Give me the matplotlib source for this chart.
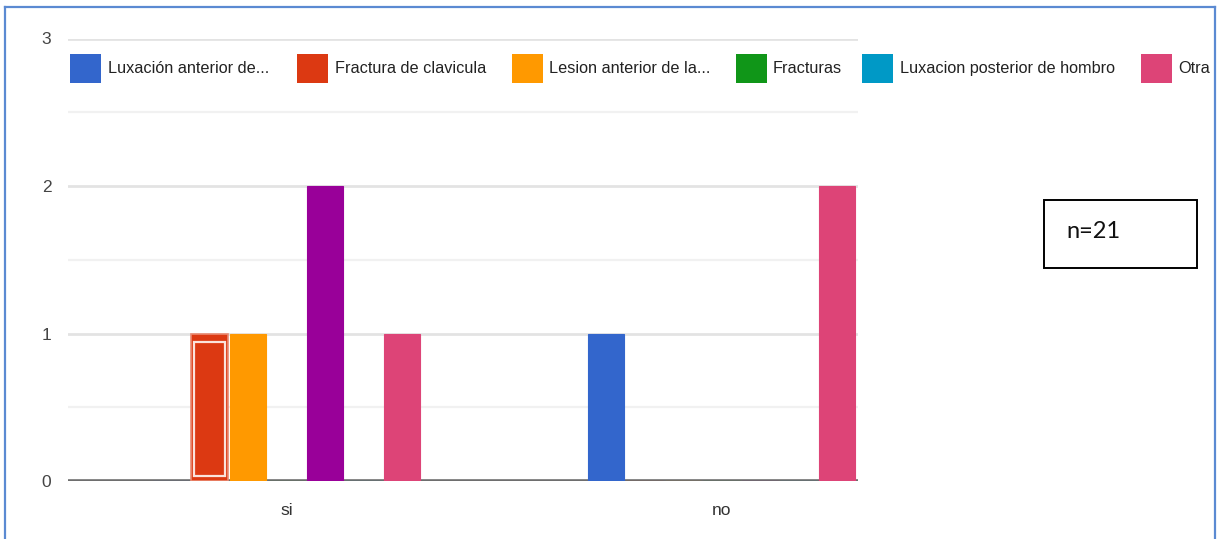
import matplotlib
matplotlib.use("Agg")
import matplotlib.pyplot as plt
from matplotlib.patches import Rectangle
from matplotlib.lines import Line2D
import numpy as np

# ---- data -------------------------------------------------------------
categories = ["si", "no"]
series_labels = [
    "Luxación anterior de...",
    "Fractura de clavicula",
    "Lesion anterior de la...",
    "Fracturas",
    None,  # purple series, no legend entry
    "Luxacion posterior de hombro",
    "Otra",
]
series_colors = ["#3366cc", "#dc3912", "#ff9900", "#109618",
                 "#990099", "#0099c6", "#dd4477"]
values_si = [0, 1, 1, 0, 2, 0, 1]
values_no = [1, 0, 0, 0, 0, 0, 2]
y_ticks = [0, 1, 2, 3]
legend_order = [0, 1, 2, 3, 5, 6]
sample_note = "n=21"

# ---- figure -----------------------------------------------------------
W, H = 1221, 539
fig = plt.figure(figsize=(W / 100, H / 100), dpi=100)
fig.patch.set_facecolor("white")

sans = ["Liberation Sans", "DejaVu Sans"]


def fx(px):
    return px / W


def fy(py):
    return 1 - py / H


ax_l, ax_r, ax_t, ax_b = 68, 858, 38.5, 481
ax = fig.add_axes([fx(ax_l), fy(ax_b), fx(ax_r) - fx(ax_l), fy(ax_t) - fy(ax_b)])

n_series = len(series_colors)
x = np.arange(len(categories))
pitch = 0.0885
bar_w = 0.085
values = np.array([values_si, values_no]).T  # (series, category)

bars_by_series = []
for i in range(n_series):
    offs = (i - (n_series - 1) / 2) * pitch
    bc = ax.bar(x + offs, values[i], width=bar_w, color=series_colors[i],
                edgecolor=series_colors[i], linewidth=0.8, zorder=3)
    bars_by_series.append(bc)

# highlighted outline inside the first "Fractura de clavicula" bar
hl = bars_by_series[1][0]
dx_px = 1 / 435.0
dy_px = 1 / 147.5
hl.set_edgecolor("#ea8a72")
hl.set_linewidth(1.2)
ax.add_patch(Rectangle((hl.get_x() + 2.5 * dx_px, hl.get_y() + 5 * dy_px),
                       hl.get_width() - 5 * dx_px, hl.get_height() - 13 * dy_px,
                       fill=False, edgecolor="#fbe3dc", linewidth=1.6,
                       zorder=4))

ax.set_xlim(-0.5023, 1.3138)
ax.set_ylim(0, 3)

# gridlines
for v in y_ticks[1:]:
    ax.axhline(v, color="#e3e3e3", linewidth=2, zorder=1)
for v in [0.5, 1.5, 2.5]:
    ax.axhline(v, color="#f1f1f1", linewidth=1.6, zorder=1)
ax.axhline(0, color="#6e6e6e", linewidth=2.6, zorder=2)

for s in ax.spines.values():
    s.set_visible(False)
ax.set_facecolor("none")

ax.set_yticks(y_ticks)
ax.set_yticklabels([str(t) for t in y_ticks], family=sans, fontsize=12.5,
                   color="#444444")
ax.set_xticks(x)
ax.set_xticklabels(categories, family=sans, fontsize=12.5, color="#333333")
ax.tick_params(axis="y", length=0, pad=12)
ax.tick_params(axis="x", length=0, pad=16)

# legend row along the top
swatch_x = [70, 297, 512, 736, 862, 1141]
text_x = [108, 335, 549, 773, 900, 1178]
sw_top, sw_h, sw_w = 54, 29, 31
for k, si in enumerate(legend_order):
    fig.patches.append(Rectangle((fx(swatch_x[k]), fy(sw_top + sw_h)),
                                 sw_w / W, sw_h / H,
                                 transform=fig.transFigure,
                                 facecolor=series_colors[si],
                                 edgecolor="none"))
    fig.text(fx(text_x[k]), fy(sw_top + sw_h / 2), series_labels[si],
             family=sans, fontsize=11.7, color="#222222",
             ha="left", va="center")

# sample size note
fig.patches.append(Rectangle((fx(1044), fy(268)), 153 / W, 68 / H,
                             transform=fig.transFigure, facecolor="white",
                             edgecolor="black", linewidth=1.4))
fig.text(fx(1066), fy(232), sample_note, family=["Lato", "DejaVu Sans"],
         fontsize=17, color="#111111", ha="left", va="center")

# outer frame
frame_color = "#5b8ad2"
fig.lines.append(Line2D([fx(5), fx(5)], [fy(H + 2), fy(7)],
                        transform=fig.transFigure, color=frame_color, lw=1.6))
fig.lines.append(Line2D([fx(5), fx(1215)], [fy(7), fy(7)],
                        transform=fig.transFigure, color=frame_color, lw=1.6))
fig.lines.append(Line2D([fx(1215), fx(1215)], [fy(7), fy(H + 2)],
                        transform=fig.transFigure, color=frame_color, lw=1.6))

fig.savefig("out.png", dpi=100, facecolor="white")
